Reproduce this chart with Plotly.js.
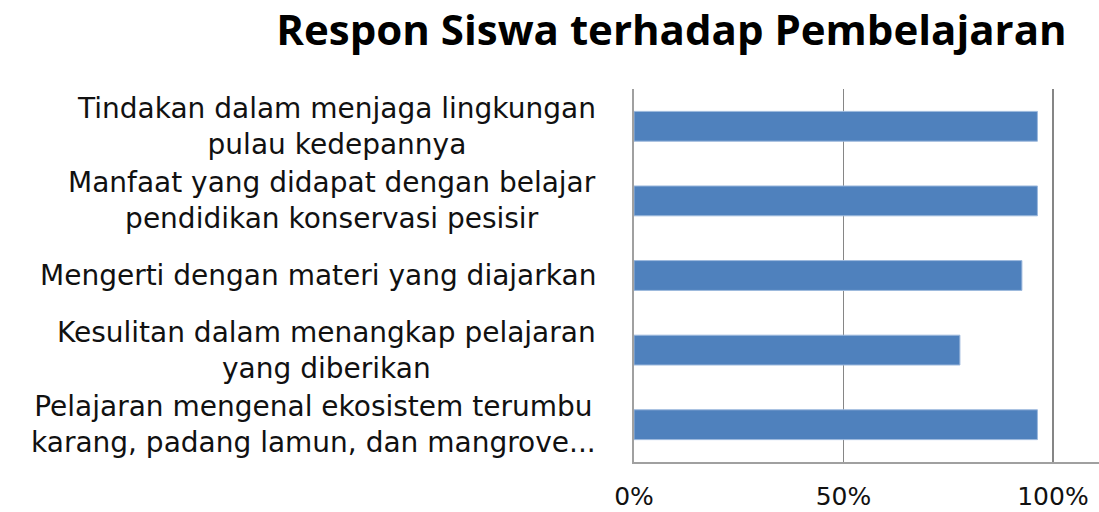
<!DOCTYPE html>
<html>
<head>
<meta charset="utf-8">
<script src="https://cdn.plot.ly/plotly-3.0.1.min.js"></script>
<style>html,body{margin:0;padding:0;background:#fff;}#chart{width:1099px;height:512px;}</style>
</head>
<body>
<div id="chart"></div>
<script>
// Categories, top to bottom
const categories = [
  "Tindakan dalam menjaga lingkungan<br>pulau kedepannya",
  "Manfaat yang didapat dengan belajar<br>pendidikan konservasi pesisir",
  "Mengerti dengan materi yang diajarkan",
  "Kesulitan dalam menangkap pelajaran<br>yang diberikan",
  "Pelajaran mengenal ekosistem terumbu<br>karang, padang lamun, dan mangrove..."
];
const values = [0.963, 0.963, 0.926, 0.778, 0.963];
const tickVals = [0, 0.5, 1];
const tickText = ["0%", "50%", "100%"];
const chartTitle = "Respon Siswa terhadap Pembelajaran";

const LABEL_FONT = "DejaVu Sans, sans-serif";
const TITLE_FONT = "Open Sans, Noto Sans, sans-serif";

const trace = {
  type: "bar",
  orientation: "h",
  x: values,
  y: categories,
  marker: { color: "#4F81BD", line: { color: "#9DB9DD", width: 1 } },
  hoverinfo: "skip"
};

const annotations = categories.map(c => ({
  xref: "paper", yref: "y",
  x: -0.078, y: c,
  xanchor: "right", yanchor: "middle",
  align: "center",
  text: c,
  showarrow: false,
  font: { family: LABEL_FONT, size: 28, color: "#111" }
}));

const layout = {
  width: 1099, height: 512,
  margin: { l: 634, r: 0, t: 89, b: 50, pad: 0 },
  paper_bgcolor: "#fff", plot_bgcolor: "#fff",
  title: { text: "<b>" + chartTitle + "</b>", x: 0.611, xanchor: "center", y: 0.94, yanchor: "middle",
           font: { family: TITLE_FONT, size: 42, color: "#000" } },
  bargap: 0.6,
  showlegend: false,
  xaxis: {
    range: [0, 1.11],
    tickvals: tickVals, ticktext: tickText,
    showgrid: true, gridcolor: "#868686", gridwidth: 1.6,
    showline: true, linecolor: "#a0a0a0", linewidth: 2,
    zeroline: false, ticks: "", ticklabelstandoff: 11,
    tickfont: { family: LABEL_FONT, size: 25, color: "#111" },
    fixedrange: true
  },
  yaxis: {
    type: "category",
    autorange: "reversed",
    showticklabels: false,
    showline: true, linecolor: "#a0a0a0", linewidth: 2,
    showgrid: false, zeroline: false, ticks: "",
    fixedrange: true
  },
  annotations: annotations
};

Plotly.newPlot("chart", [trace], layout, { displayModeBar: false, staticPlot: true });
</script>
</body>
</html>
